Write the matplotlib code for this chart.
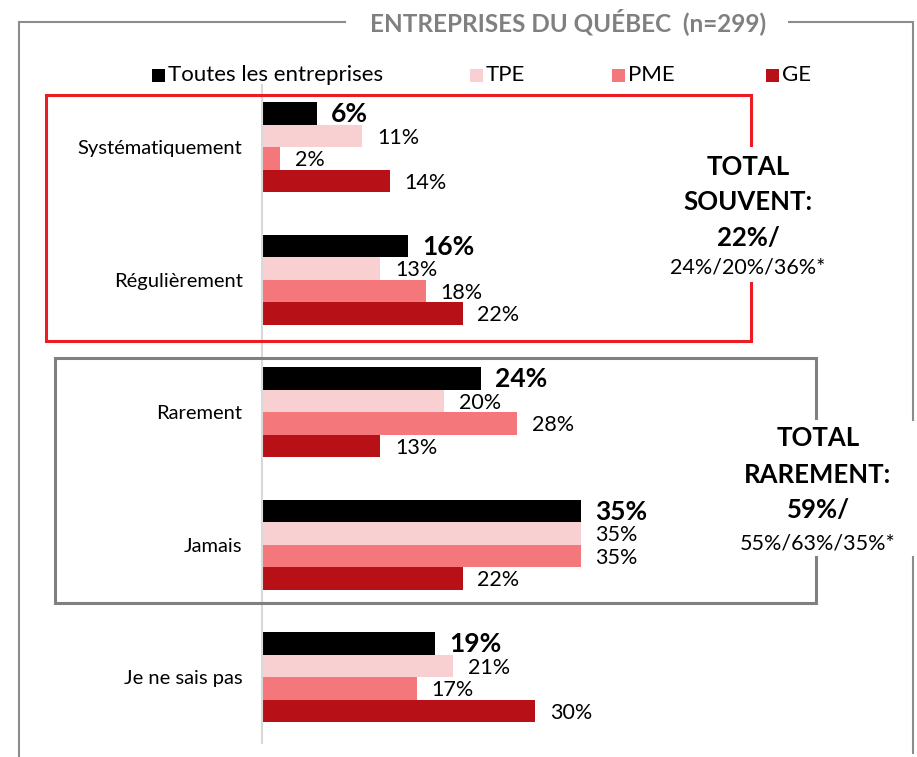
import matplotlib.pyplot as plt
from matplotlib.lines import Line2D
from matplotlib.patches import Rectangle

plt.rcParams["font.family"] = ["Lato", "DejaVu Sans"]

# survey answers, one value per category for each company size
categories = ["Systématiquement", "Régulièrement", "Rarement", "Jamais", "Je ne sais pas"]
series_names = ["Toutes les entreprises", "TPE", "PME", "GE"]
toutes = [6, 16, 24, 35, 19]
tpe = [11, 13, 20, 35, 21]
pme = [2, 18, 28, 35, 17]
ge = [14, 22, 13, 22, 30]
colors = ["#000000", "#F9D0D2", "#F3777B", "#B71117"]

title = "ENTREPRISES DU QUÉBEC  (n=299)"
souvent_lines = ["TOTAL", "SOUVENT:", "22%/"]
souvent_detail = "24%/20%/36%*"
rarement_lines = ["TOTAL", "RAREMENT:", "59%/"]
rarement_detail = "55%/63%/35%*"

W, H = 917, 757


def fx(x):
    return x / W


def fy(y):
    return 1 - y / H


def polyline(fig, pts, color, lw):
    xs = [fx(p[0]) for p in pts]
    ys = [fy(p[1]) for p in pts]
    fig.add_artist(Line2D(xs, ys, transform=fig.transFigure, color=color,
                          linewidth=lw, solid_joinstyle="miter"))


fig = plt.figure(figsize=(W / 100, H / 100), dpi=100)

# plot area: y in pixels from the top so the groups sit where the boxes are
ax = fig.add_axes([fx(262), fy(743), (W - 262) / W, (743 - 85) / H])
ax.set_xlim(0, (W - 262) / 9.114)
ax.set_ylim(743, 85)

centers = [147 + 132.5 * i for i in range(len(categories))]
bar_h = 22.5
all_values = [toutes, tpe, pme, ge]
for k, (vals, col) in enumerate(zip(all_values, colors)):
    ys = [c + (k - 1.5) * bar_h for c in centers]
    ax.barh(ys, vals, height=bar_h, color=col, edgecolor="none")
    for y, v in zip(ys, vals):
        if k == 0:
            ax.text(v + 1.6, y + 1, f"{v}%", va="center", ha="left",
                    fontsize=19, fontweight="bold", color="black")
        else:
            ax.text(v + 1.6, y + 2, f"{v}%", va="center", ha="left",
                    fontsize=15.5, color="black")

ax.set_yticks(centers, categories)
ax.tick_params(axis="y", length=0, pad=14, labelsize=14.5)
ax.set_xticks([])
for side in ["top", "right", "bottom"]:
    ax.spines[side].set_visible(False)
ax.spines["left"].set_color("#D9D9D9")
ax.spines["left"].set_linewidth(1.5)

# outer frame with the title breaking the top edge
gray = "#8C8C8C"
polyline(fig, [(345, 22), (19, 22), (19, 757)], gray, 1.5)
polyline(fig, [(789, 22), (913, 22), (913, 420)], gray, 1.5)
polyline(fig, [(913, 557), (913, 753)], gray, 1.5)
fig.text(fx(568), fy(22), title, ha="center", va="center", fontsize=17.5,
         fontweight="bold", color="#808080")

# legend
legend_x = [152, 470, 612, 766]
for name, col, x in zip(series_names, colors, legend_x):
    fig.add_artist(Rectangle((fx(x), fy(82)), 13 / W, 13 / H, transform=fig.transFigure,
                             facecolor=col, edgecolor="none"))
    fig.text(fx(x + 16), fy(75), name, ha="left", va="center", fontsize=16)

# "souvent" group box
red = "#ED1C24"
polyline(fig, [(751, 145), (751, 95), (46, 95), (46, 341), (751, 341), (751, 283)], red, 2.2)
for line, y in zip(souvent_lines, [167, 202, 238]):
    fig.text(fx(748), fy(y), line, ha="center", va="center", fontsize=18.5, fontweight="bold")
fig.text(fx(748), fy(268), souvent_detail, ha="center", va="center", fontsize=15.5)

# "rarement" group box
polyline(fig, [(816, 418), (816, 358), (55, 358), (55, 603), (816, 603), (816, 557)],
         "#808080", 2.2)
for line, y in zip(rarement_lines, [438, 475, 510]):
    fig.text(fx(818), fy(y), line, ha="center", va="center", fontsize=18.5, fontweight="bold")
fig.text(fx(818), fy(543), rarement_detail, ha="center", va="center", fontsize=15.5)

fig.savefig("out.png", dpi=100)
